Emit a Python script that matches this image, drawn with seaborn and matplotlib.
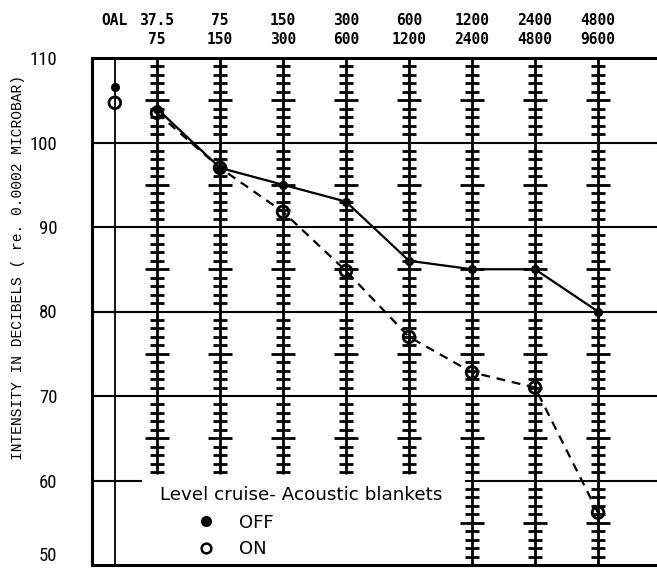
import numpy as np
import pandas as pd
import matplotlib
matplotlib.use("Agg")
import matplotlib.pyplot as plt
from matplotlib.lines import Line2D
import seaborn as sns

# octave bands (Hz) and the overall level column
band_labels = ["37.5\n75", "75\n150", "150\n300", "300\n600", "600\n1200",
               "1200\n2400", "2400\n4800", "4800\n9600"]
oal_label = "OAL\n "
# sound levels, dB re 0.0002 microbar
off_levels = [104, 97, 95, 93, 86, 85, 85, 80]
on_levels = [103.5, 97, 91.8, 84.8, 77, 72.8, 71, 56.2]
oal_off = 106.6
oal_on = 104.7
y_ticks = [50, 60, 70, 80, 90, 100, 110]

# layout of the chart form
band_x = np.arange(1, len(band_labels) + 1)
oal_x = 0.33
ladder_bottom = [61, 61, 61, 61, 61, 50, 50, 50]
narrow = ["Liberation Sans Narrow", "Roboto Condensed", "DejaVu Sans Condensed",
          "Liberation Sans"]

sns.set_style("white")
plt.rcParams["font.family"] = ["DejaVu Sans"]
plt.rcParams["text.color"] = "black"
plt.rcParams["xtick.color"] = "black"
plt.rcParams["ytick.color"] = "black"

df = pd.DataFrame({
    "x": np.concatenate([band_x, band_x]),
    "level": off_levels + on_levels,
    "blankets": ["OFF"] * len(off_levels) + ["ON"] * len(on_levels),
})
oal = pd.DataFrame({"x": [oal_x, oal_x], "level": [oal_off, oal_on],
                    "blankets": ["OFF", "ON"]})
pts = pd.concat([df, oal], ignore_index=True)

fig = plt.figure(figsize=(6.57, 5.71), dpi=100)
ax = fig.add_axes([92 / 657, 6 / 571, 565 / 657, 507 / 571])
ax.set_xlim(1 - 65 / 63, 1 + 500 / 63)
ax.set_ylim(50, 110)

# horizontal grid, 60 dB line broken by the legend block
for yv in [70, 80, 90, 100]:
    ax.axhline(yv, color="black", lw=1.5, zorder=1)
ax.hlines(60, 1 - 65 / 63, 0.76, color="black", lw=1.5, zorder=1)
ax.hlines(60, 5.89, 1 + 500 / 63, color="black", lw=1.5, zorder=1)

# OAL column line
ax.axvline(oal_x, color="black", lw=1.3, zorder=1)

# ladder columns for each band
for xb, yb in zip(band_x, ladder_bottom):
    ax.vlines(xb, yb - 0.2, 110, color="black", lw=2.0, zorder=1)
    for d in range(yb, 110):
        if d % 10 == 0:
            continue
        hw = 0.19 if d % 5 == 0 else 0.11
        ax.hlines(d, xb - hw, xb + hw, color="black", lw=2.0, zorder=1)

sns.lineplot(data=df, x="x", y="level", style="blankets",
             dashes={"OFF": "", "ON": (4, 3)}, color="black", lw=1.6,
             legend=False, ax=ax, zorder=3)
sns.scatterplot(data=pts[pts.blankets == "OFF"], x="x", y="level",
                color="black", s=36, edgecolor="black", linewidth=0.5,
                legend=False, ax=ax, zorder=4)
sns.scatterplot(data=pts[pts.blankets == "ON"], x="x", y="level",
                facecolor="none", edgecolor="black", s=70, linewidth=2.0,
                legend=False, ax=ax, zorder=5)

# axes frame
for side in ["left", "top", "bottom"]:
    ax.spines[side].set_linewidth(2.2)
    ax.spines[side].set_color("black")
ax.spines["right"].set_visible(False)

ax.set_yticks(y_ticks)
ax.set_yticklabels([str(v) for v in y_ticks], family=narrow, fontsize=13.5)
ax.tick_params(axis="y", length=0, pad=25)
ax.get_yticklabels()[0].set_va("bottom")

ax.set_xticks([oal_x] + list(band_x))
ax.set_xticklabels([oal_label] + band_labels, family="DejaVu Sans Mono",
                   fontweight="bold", fontsize=10.5, linespacing=1.3)
ax.xaxis.tick_top()
ax.tick_params(axis="x", length=0, pad=8)
ax.set_xlabel("")
ax.set_ylabel("")

fig.text(18 / 657, 1 - 267 / 571,
         "INTENSITY IN DECIBELS ( re. 0.0002 MICROBAR)",
         rotation=90, ha="center", va="center",
         family=["Liberation Mono", "DejaVu Sans Mono"], fontsize=10.5)

# legend block
ax.text(1.05, 58.3, "Level cruise- Acoustic blankets", fontsize=13.2,
        ha="left", va="center", family="DejaVu Sans")
handles = [
    Line2D([], [], ls="none", marker="o", markersize=7,
           markerfacecolor="black", markeredgecolor="black", label="OFF"),
    Line2D([], [], ls="none", marker="o", markersize=7, markeredgewidth=1.8,
           markerfacecolor="none", markeredgecolor="black", label="ON"),
]
ax.legend(handles=handles, loc="upper left", bbox_to_anchor=(0.186, 0.101),
          frameon=False, fontsize=13, handlelength=1.0, handletextpad=1.3,
          labelspacing=0.45, borderpad=0, borderaxespad=0)

fig.savefig("out.png", dpi=100)
